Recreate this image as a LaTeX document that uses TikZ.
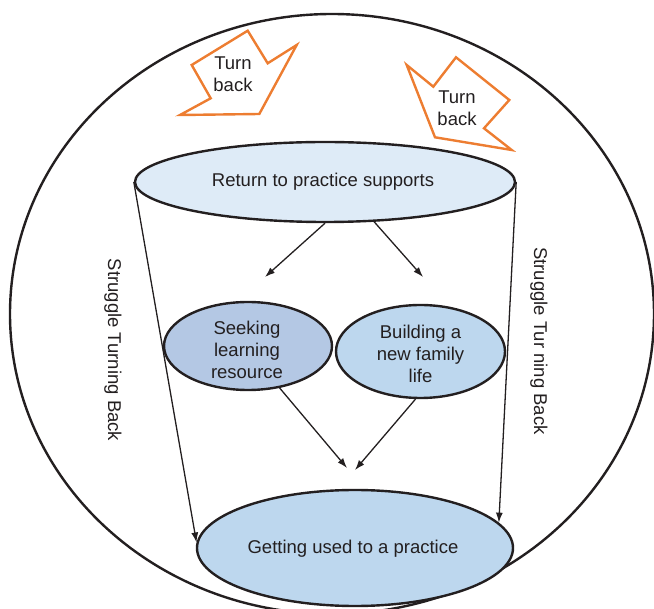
\documentclass[tikz,border=0pt]{standalone}
\usepackage{fontspec}
\setmainfont{Liberation Sans}
\usetikzlibrary{shapes.geometric,arrows.meta}
\definecolor{ink}{HTML}{231F20}
\definecolor{topfill}{HTML}{DEEBF7}
\definecolor{seekfill}{HTML}{B4C8E4}
\definecolor{buildfill}{HTML}{BDD7EE}
\definecolor{turnorange}{HTML}{ED7D31}
\tikzset{
  blob/.style={ellipse, draw=ink, line width=2.4pt, inner sep=0pt, align=center, text=ink,
    font=\fontsize{18.5}{22}\selectfont},
  label/.style={text=ink, align=center, inner sep=0pt, font=\fontsize{18.5}{22}\selectfont},
  conn/.style={draw=ink, line width=1.3pt, -{Latex[length=10pt,width=7pt]}},
  turnshape/.style={draw=turnorange, line width=2.4pt, line join=miter},
  outer/.style={draw=ink, line width=2.4pt}
}
\begin{document}
\begin{tikzpicture}[x=1pt,y=-1pt]
\useasboundingbox (0,0) rectangle (654,609);
% outer circle
\draw[outer] (332,314) ellipse [x radius=322, y radius=300];
% turn back arrows
\draw[turnshape] (191.7,65) -- (247.7,30.7) -- (267.7,63.3) -- (296.7,45) -- (259.3,114) -- (180,115) -- (210.7,98.3) -- cycle;
\draw[turnshape] (406.7,65) -- (433.3,86.7) -- (456,57.3) -- (509.3,100) -- (484,128.3) -- (511.7,150) -- (435,137.3) -- cycle;
\node[label] (tb1) at (233,74) {Turn\\back};
\node[label] (tb2) at (457,108.5) {Turn\\back};
% ellipses
\node[blob, fill=topfill, minimum width=380pt, minimum height=80pt] (top) at (325,182) {};
\node[label] (toptext) at (323,182) {Return to practice supports};
\node[blob, fill=seekfill, minimum width=168pt, minimum height=88pt] (seek) at (248,346) {};
\node[label] (seektext) at (247,350) {Seeking\\learning\\resource};
\node[blob, fill=buildfill, minimum width=169pt, minimum height=93pt] (build) at (420.5,351.5) {};
\node[label] (buildtext) at (420.5,353.5) {Building a\\new family\\life};
\node[blob, fill=buildfill, minimum width=316pt, minimum height=116pt] (bot) at (355,548) {};
\node[label] (bottext) at (353,549) {Getting used to a practice};
% free ends
\coordinate (e1) at (265,277);
\coordinate (e2) at (423,277);
\coordinate (e3) at (347,468);
\coordinate (e4) at (355,470);
% connectors
\draw[conn] (top.south) -- (e1);
\draw[conn] (top.-39) -- (e2);
\draw[conn] (seek.-53) -- (e3);
\draw[conn] (build.-96) -- (e4);
\draw[conn] (top.west) -- (bot.178);
\draw[conn] (top.east) -- (bot.10);
% side labels
\node[label, rotate=-90] (sl) at (113,350) {Struggle Turning Back};
\node[label, rotate=-90] (sr) at (539,341) {Struggle Tur ning Back};
\end{tikzpicture}
\end{document}
